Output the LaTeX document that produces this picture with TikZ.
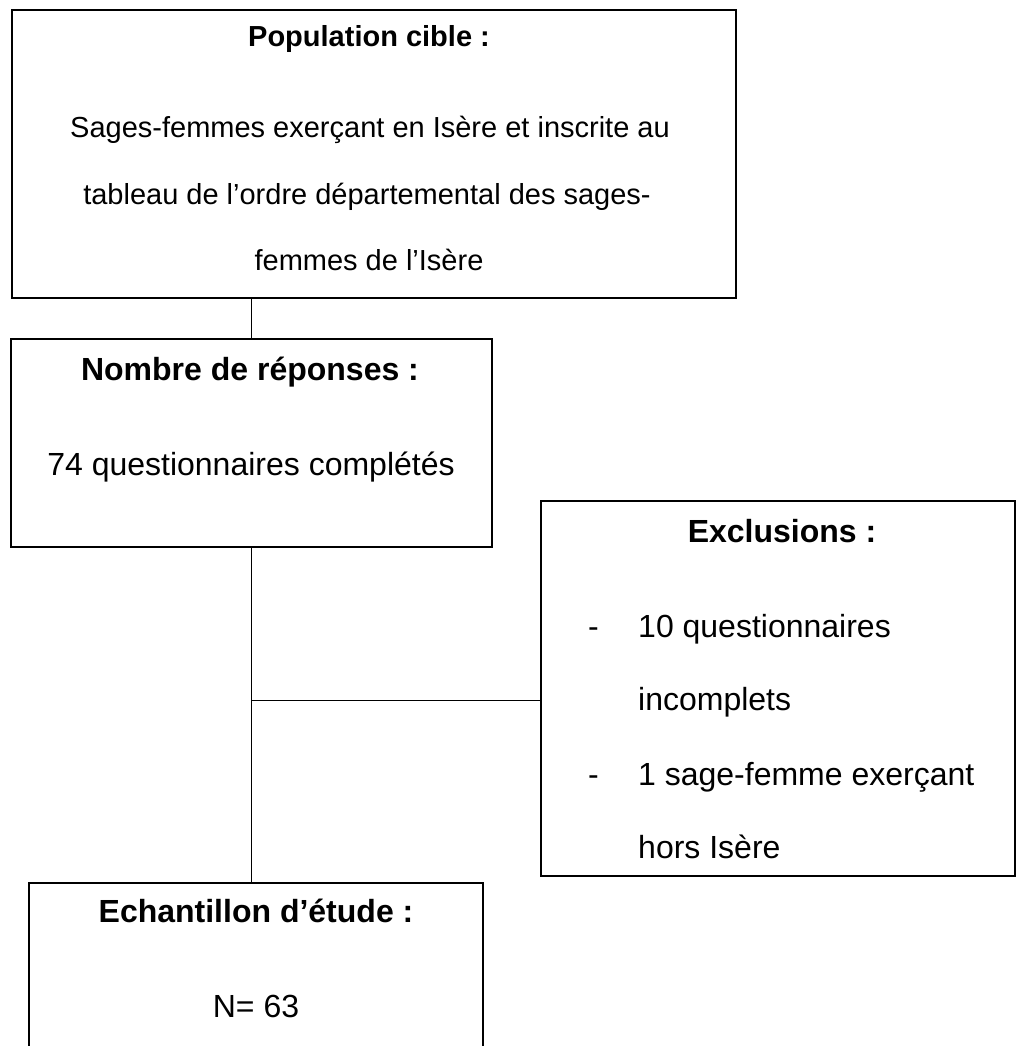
\documentclass[tikz,border=0pt]{standalone}
\usepackage{fontspec}
\setmainfont{Liberation Sans}
\begin{document}
\begin{tikzpicture}[x=1pt,y=-1pt,
  box/.style={draw=black,line width=1.5pt,inner sep=0pt,outer sep=0pt},
  conn/.style={draw=black,line width=1pt},
  txa/.style={font=\fontsize{29}{29}\selectfont,anchor=base,inner sep=0pt},
  txb/.style={font=\fontsize{32}{32}\selectfont,anchor=base,inner sep=0pt},
  txl/.style={font=\fontsize{32}{32}\selectfont,anchor=base west,inner sep=0pt}]
\useasboundingbox (0,0) rectangle (1016,1046);
\clip (0,0) rectangle (1016,1046);
% boxes
\node[box,minimum width=724pt,minimum height=288pt] (pop) at (374,154) {};
\node[box,minimum width=481pt,minimum height=208pt] (rep) at (251.5,443) {};
\node[box,minimum width=474pt,minimum height=375pt] (excl) at (778,688.5) {};
\node[box,minimum width=454pt,minimum height=177pt] (ech) at (256,971.5) {};
% texts
\node[txa,font=\fontsize{29}{29}\selectfont\bfseries] (t1) at (369,47) {Population cible :};
\node[txa] (t2) at (370,138) {Sages-femmes exerçant en Isère et inscrite au};
\node[txa] (t3) at (367,204) {tableau de l’ordre départemental des sages-};
\node[txa] (t4) at (369,270) {femmes de l’Isère};
\node[txb,font=\fontsize{32}{32}\selectfont\bfseries] (t5) at (250,380) {Nombre de réponses :};
\node[txb] (t6) at (251,475) {74 questionnaires complétés};
\node[txb,font=\fontsize{32}{32}\selectfont\bfseries] (t7) at (782,542) {Exclusions :};
\node[txl] (d1) at (588,637) {-};
\node[txl] (t8) at (638,637) {10 questionnaires};
\node[txl] (t9) at (638,710) {incomplets};
\node[txl] (d2) at (588,785) {-};
\node[txl] (t10) at (638,785) {1 sage-femme exerçant};
\node[txl] (t11) at (638,858) {hors Isère};
\node[txb,font=\fontsize{32}{32}\selectfont\bfseries] (t12) at (256,922) {Echantillon d’étude :};
\node[txb] (t13) at (256,1017) {N= 63};
% connectors
\draw[conn] (rep.north) -- (rep.north |- pop.south);
\draw[conn] (rep.south) -- (rep.south |- ech.north);
\coordinate (jy) at (0,700);
\coordinate (j) at (rep.south |- jy);
\draw[conn] (j) -- (j -| excl.west);
\end{tikzpicture}
\end{document}
